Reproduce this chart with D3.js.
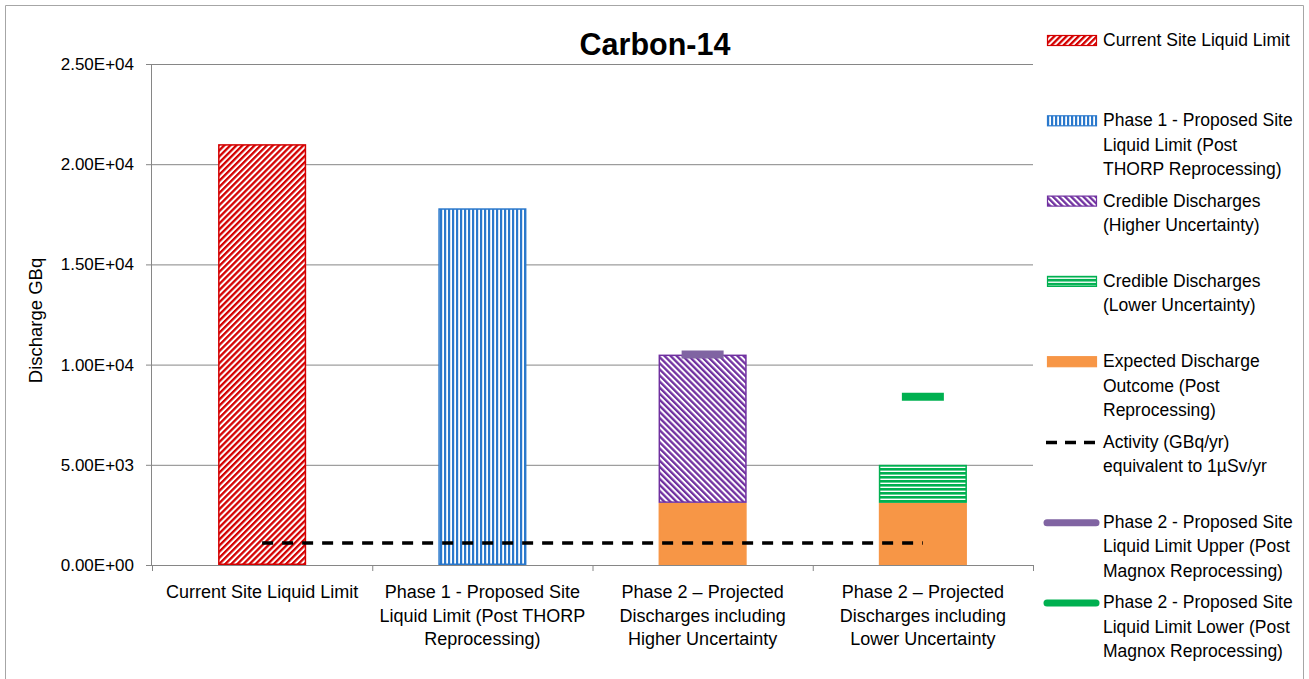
<!DOCTYPE html>
<html lang="en">
  <head>
    <meta charset="utf-8">
    <title>Carbon-14</title>
    <script src="https://cdn.jsdelivr.net/npm/d3@7"></script>
    <style>
      body { margin: 0; background: #fff; }
      text { font-family: "Liberation Sans", Arial, sans-serif; fill: #000; }
    </style>
  </head>
  <body>
    <svg width="1309" height="679" id="mainsvg"></svg>
    <script>
      // data
      const categories = [
        ['Current Site Liquid Limit'],
        ['Phase 1 - Proposed Site', 'Liquid Limit (Post THORP', 'Reprocessing)'],
        ['Phase 2 \u2013 Projected', 'Discharges including', 'Higher Uncertainty'],
        ['Phase 2 \u2013 Projected', 'Discharges including', 'Lower Uncertainty']
      ];
      const currentLimit = [21000, 0, 0, 0];
      const phase1Limit = [0, 17800, 0, 0];
      const expectedOutcome = [0, 0, 3100, 3100];
      const credibleHigher = [0, 0, 7400, 0];
      const credibleLower = [0, 0, 0, 1900];
      const activity1uSv = [1100, 1100, 1100, 1100];
      const phase2Upper = [null, null, 10500, null];
      const phase2Lower = [null, null, null, 8400];
      const yTicks = [0, 5000, 10000, 15000, 20000, 25000];

      const legendLabels = [
        ['Current Site Liquid Limit'],
        ['Phase 1 - Proposed Site', 'Liquid Limit (Post', 'THORP Reprocessing)'],
        ['Credible Discharges', '(Higher Uncertainty)'],
        ['Credible Discharges', '(Lower Uncertainty)'],
        ['Expected Discharge', 'Outcome (Post', 'Reprocessing)'],
        ['Activity (GBq/yr)', 'equivalent to 1\u00b5Sv/yr'],
        ['Phase 2 - Proposed Site', 'Liquid Limit Upper (Post', 'Magnox Reprocessing)'],
        ['Phase 2 - Proposed Site', 'Liquid Limit Lower (Post', 'Magnox Reprocessing)']
      ];

      const svg = d3.select('#mainsvg');
      const margin = { top: 64, left: 152 };
      const innerWidth = 881;
      const innerHeight = 501;
      const gridColor = '#868686';

      // frame (bottom edge is off the picture)
      [[5.5, 5.5, 5.5, 679], [5.5, 5.5, 1303.5, 5.5], [1303.5, 5.5, 1303.5, 679]].forEach(([x1, y1, x2, y2]) => {
        svg.append('line')
          .attr('x1', x1).attr('y1', y1).attr('x2', x2).attr('y2', y2)
          .attr('stroke', '#a6a6a6');
      });

      // patterns
      const defs = svg.append('defs');
      const makePattern = (id, color, size, stripe, angle) => {
        const p = defs.append('pattern')
          .attr('id', id)
          .attr('patternUnits', 'userSpaceOnUse')
          .attr('width', size).attr('height', size)
          .attr('patternTransform', `rotate(${angle})`);
        p.append('rect').attr('width', size).attr('height', size).attr('fill', '#fff');
        p.append('rect').attr('width', stripe).attr('height', size).attr('fill', color);
      };
      makePattern('pRed', '#d40000', 4.3, 2.3, 45);
      makePattern('pBlue', '#2a78cc', 4, 2.2, 0);
      makePattern('pPurple', '#7030a0', 4.3, 2.3, -45);
      makePattern('pGreen', '#00b050', 4, 2.6, 90);

      const g = svg.append('g')
        .attr('transform', `translate(${margin.left}, ${margin.top})`);

      const xScale = d3.scaleBand()
        .domain(d3.range(categories.length))
        .range([0, innerWidth])
        .paddingInner(0.6)
        .paddingOuter(0.3);
      const step = xScale.step();
      const xCenter = i => xScale(i) + xScale.bandwidth() / 2;

      const yScale = d3.scaleLinear()
        .domain([0, 25000])
        .range([innerHeight, 0]);

      // gridlines
      g.selectAll('.grid').data(yTicks.slice(1)).enter().append('line')
        .attr('x1', 0).attr('x2', innerWidth)
        .attr('y1', d => yScale(d) + 0.5).attr('y2', d => yScale(d) + 0.5)
        .attr('stroke', gridColor);

      // y axis
      const yAxis = d3.axisLeft(yScale)
        .tickValues(yTicks)
        .tickSize(6)
        .tickPadding(12)
        .tickFormat(d => {
          const s = d.toExponential(2).toUpperCase();
          return s.replace(/E([+-])(\d)$/, 'E$10$2');
        });
      const yAxisGroup = g.append('g').call(yAxis);
      yAxisGroup.selectAll('line, path').attr('stroke', gridColor);
      yAxisGroup.select('.domain').attr('d', `M-0.5,0V${innerHeight}`);
      yAxisGroup.selectAll('text')
        .attr('font-size', 17)
        .attr('font-family', '"Liberation Sans", Arial, sans-serif')
        .attr('fill', '#000');

      svg.append('text')
        .text('Discharge GBq')
        .attr('transform', `translate(42, ${margin.top + innerHeight / 2 + 6}) rotate(-90)`)
        .attr('text-anchor', 'middle')
        .attr('font-size', 18.5);

      // bars
      const barSeries = [
        { values: expectedOutcome, base: null, fill: '#f79646', stroke: '#f79646' },
        { values: currentLimit, base: null, fill: 'url(#pRed)', stroke: '#d40000' },
        { values: phase1Limit, base: null, fill: 'url(#pBlue)', stroke: '#2a78cc' },
        { values: credibleHigher, base: expectedOutcome, fill: 'url(#pPurple)', stroke: '#7030a0' },
        { values: credibleLower, base: expectedOutcome, fill: 'url(#pGreen)', stroke: '#00b050' }
      ];
      barSeries.forEach(s => {
        const rows = s.values.map((v, i) => ({ i, v, b: s.base ? s.base[i] : 0 })).filter(d => d.v > 0);
        g.selectAll(null).data(rows).enter().append('rect')
          .attr('x', d => xScale(d.i) + 0.75)
          .attr('y', d => yScale(d.b + d.v) + 0.75)
          .attr('width', xScale.bandwidth() - 1.5)
          .attr('height', d => yScale(d.b) - yScale(d.b + d.v) - 1.5)
          .attr('fill', s.fill)
          .attr('stroke', s.stroke)
          .attr('stroke-width', 1.5);
      });

      // x axis
      const xAxisG = g.append('g').attr('transform', `translate(0, ${innerHeight})`);
      xAxisG.append('line')
        .attr('x1', -6).attr('x2', innerWidth)
        .attr('y1', 0.5).attr('y2', 0.5)
        .attr('stroke', gridColor);
      xAxisG.selectAll('.xtick').data(d3.range(categories.length + 1)).enter().append('line')
        .attr('x1', d => d * step + 0.5).attr('x2', d => d * step + 0.5)
        .attr('y1', 0).attr('y2', 6)
        .attr('stroke', gridColor);
      // one text element per label line
      const xLines = categories.flatMap((lines, i) => lines.map((t, j) => ({ t, i, j })));
      xAxisG.selectAll('.xlab').data(xLines).enter().append('text')
        .attr('class', 'xlab')
        .attr('x', d => xCenter(d.i))
        .attr('y', d => 33 + d.j * 23.5)
        .attr('text-anchor', 'middle')
        .attr('font-size', 18)
        .text(d => d.t);

      // activity line (dashed)
      const line = d3.line()
        .x((d, i) => xCenter(i))
        .y(d => yScale(d));
      g.append('path')
        .attr('d', line(activity1uSv))
        .attr('fill', 'none')
        .attr('stroke', '#000')
        .attr('stroke-width', 3.5)
        .attr('stroke-dasharray', '11,9');

      // phase 2 limit markers
      const markerW = 42;
      [[phase2Upper, '#8064a2'], [phase2Lower, '#00b050']].forEach(([vals, col]) => {
        const rows = vals.map((v, i) => ({ v, i })).filter(d => d.v !== null);
        g.selectAll(null).data(rows).enter().append('line')
          .attr('x1', d => xCenter(d.i) - markerW / 2)
          .attr('x2', d => xCenter(d.i) + markerW / 2)
          .attr('y1', d => yScale(d.v))
          .attr('y2', d => yScale(d.v))
          .attr('stroke', col)
          .attr('stroke-width', 8);
      });

      // title
      svg.append('text')
        .text('Carbon-14')
        .attr('x', 655).attr('y', 55)
        .attr('text-anchor', 'middle')
        .attr('font-size', 30.5)
        .attr('font-weight', 'bold');

      // legend
      const legend = svg.append('g').attr('transform', 'translate(1043, 0)');
      const swatches = [
        { type: 'rect', fill: 'url(#pRed)', stroke: '#d40000' },
        { type: 'rect', fill: 'url(#pBlue)', stroke: '#2a78cc' },
        { type: 'rect', fill: 'url(#pPurple)', stroke: '#7030a0' },
        { type: 'rect', fill: 'url(#pGreen)', stroke: '#00b050' },
        { type: 'rect', fill: '#f79646', stroke: '#f79646' },
        { type: 'dash', stroke: '#000' },
        { type: 'line', stroke: '#8064a2' },
        { type: 'line', stroke: '#00b050' }
      ];
      const items = legend.selectAll('.legend').data(legendLabels).enter().append('g')
        .attr('class', 'legend')
        .attr('transform', (d, i) => `translate(0, ${46 + i * 80.3})`);
      items.each(function (lines, i) {
        const it = d3.select(this);
        const sw = swatches[i];
        if (sw.type === 'rect') {
          it.append('rect')
            .attr('x', 4.5).attr('y', -10.5)
            .attr('width', 49).attr('height', 10)
            .attr('fill', sw.fill).attr('stroke', sw.stroke).attr('stroke-width', 1.2);
        } else if (sw.type === 'dash') {
          it.append('line')
            .attr('x1', 3).attr('x2', 57).attr('y1', -5).attr('y2', -5)
            .attr('stroke', sw.stroke).attr('stroke-width', 3.5)
            .attr('stroke-dasharray', '11,8');
        } else {
          it.append('line')
            .attr('x1', 4).attr('x2', 53).attr('y1', -5).attr('y2', -5)
            .attr('stroke', sw.stroke).attr('stroke-width', 7)
            .attr('stroke-linecap', 'round');
        }
        it.selectAll('text').data(lines).enter().append('text')
          .attr('x', 60)
          .attr('y', (d, j) => j * 24.5)
          .attr('font-size', 17.5)
          .text(d => d);
      });
    </script>
  </body>
</html>
